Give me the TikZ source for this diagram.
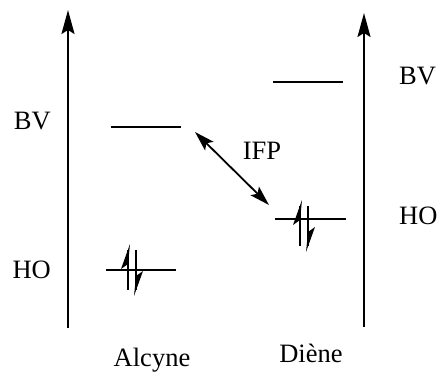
\documentclass[tikz,border=0pt]{standalone}
\usepackage{fontspec}
\setmainfont{Liberation Serif}
\usetikzlibrary{arrows.meta, positioning}

\begin{document}
\begin{tikzpicture}[x=1pt, y=-1pt,
    axe/.style={line width=2pt, -{Stealth[length=24pt, width=13pt, inset=4pt]}},
    niveau/.style={line width=1.7pt},
    ifp/.style={line width=1.8pt, {Stealth[length=20pt, width=12pt, inset=4pt]}-{Stealth[length=20pt, width=12pt, inset=4pt]}},
    label/.style={font=\fontsize{26.5}{31}\selectfont, inner sep=0pt},
    paire/.pic={
      \draw[line width=2.4pt] (-4,-20) -- (-4,20);
      \fill (-2,-26) -- (-11,-1) -- (-4,-6) -- cycle;
      \draw[line width=2.4pt] (4,-20) -- (4,20);
      \fill (2,26) -- (11,1) -- (4,6) -- cycle;
    }]
\useasboundingbox (0,0) rectangle (437,372);

% axes d'energie
\coordinate (baseA) at (68,328);
\coordinate (hautA) at (68,10);
\coordinate (baseD) at (364,327);
\coordinate (hautD) at (364,13);
\draw[axe] (baseA) -- (hautA);
\draw[axe] (baseD) -- (hautD);

% niveaux de l'alcyne
\coordinate (bvA-g) at (111,127);
\coordinate (bvA-d) at (181,127);
\coordinate (hoA-g) at (106,270);
\coordinate (hoA-d) at (176,270);
\draw[niveau] (bvA-g) -- (bvA-d);
\draw[niveau] (hoA-g) -- (hoA-d);
\pic at (132,270) {paire};

% niveaux du diene
\coordinate (bvD-g) at (273,82);
\coordinate (bvD-d) at (343,82);
\coordinate (hoD-g) at (275,219);
\coordinate (hoD-d) at (346,219);
\draw[niveau] (bvD-g) -- (bvD-d);
\draw[niveau] (hoD-g) -- (hoD-d);
\pic at (304,226) {paire};

% interaction frontiere
\coordinate (ifpA) at (195,132);
\coordinate (ifpD) at (269,205);
\draw[ifp] (ifpA) -- (ifpD);
\node[label] (ifp) at (262,151) {IFP};

% etiquettes
\node[label, anchor=east] (bvA) at (51,121) {BV};
\node[label, anchor=east] (hoA) at (51,270) {HO};
\node[label, anchor=west] (bvD) at (399,76) {BV};
\node[label, anchor=west] (hoD) at (399,216) {HO};
\node[label, anchor=base] (alcyne) at (152,366) {Alcyne};
\node[label, anchor=base] (diene) at (311,362) {Diène};
\end{tikzpicture}
\end{document}
